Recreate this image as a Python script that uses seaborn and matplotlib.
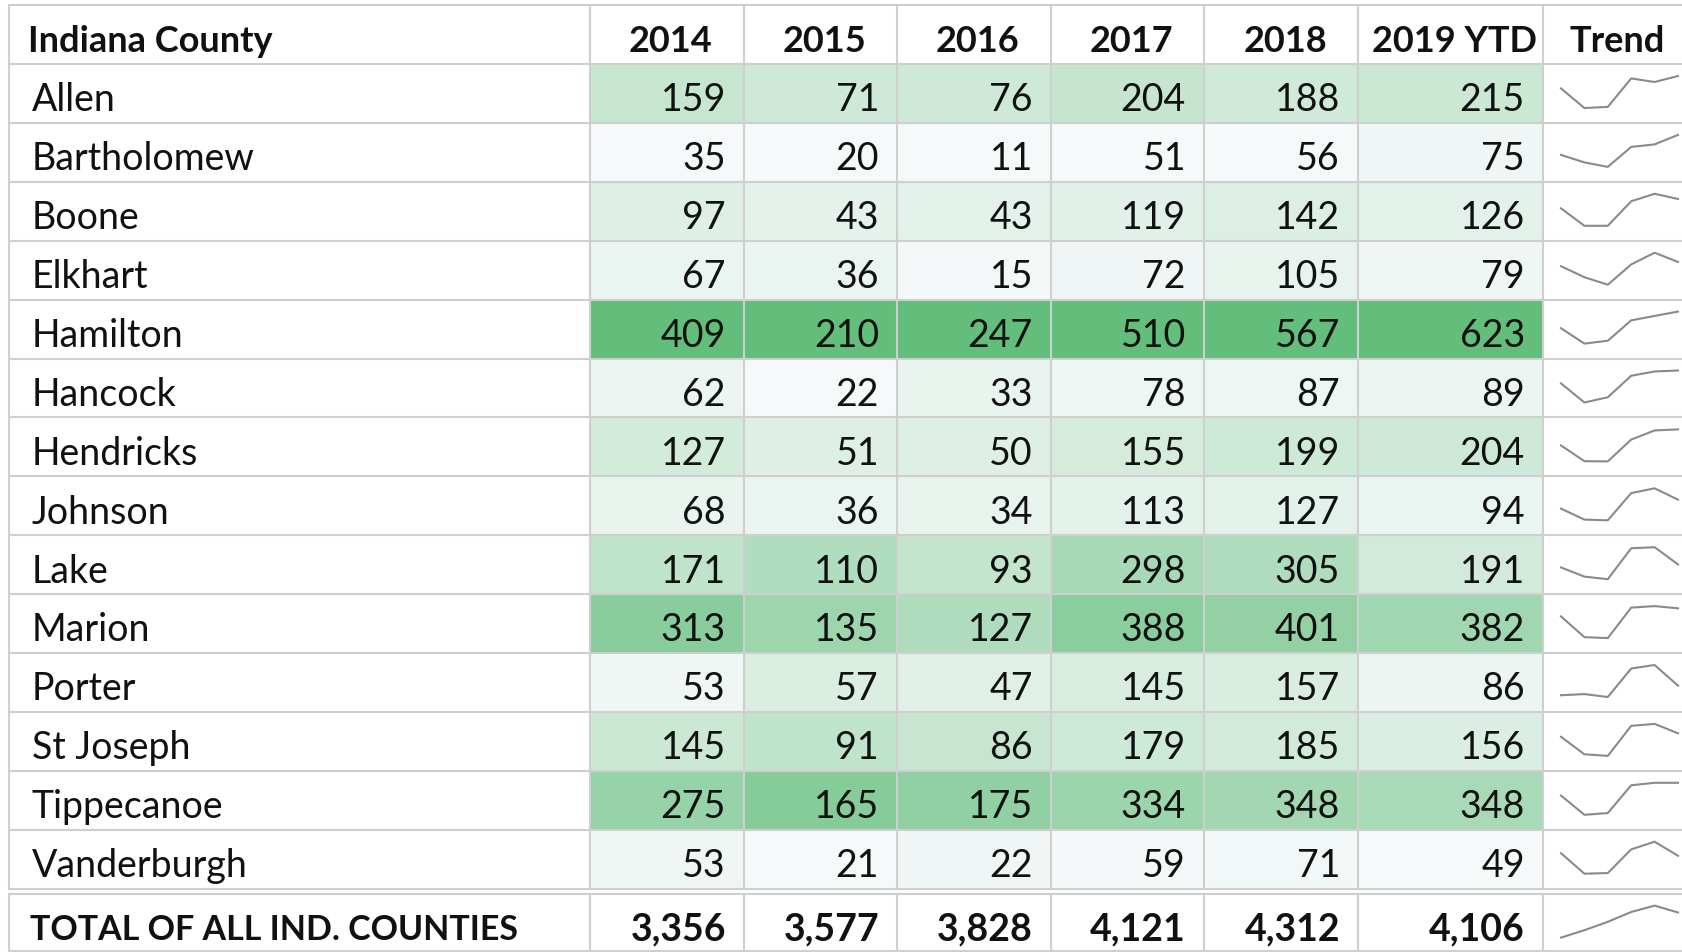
import pandas as pd
import numpy as np
import seaborn as sns
import matplotlib.pyplot as plt
from matplotlib.colors import LinearSegmentedColormap

# ------------------------------
# DATA
# ------------------------------
counties = ["Allen", "Bartholomew", "Boone", "Elkhart", "Hamilton", "Hancock",
            "Hendricks", "Johnson", "Lake", "Marion", "Porter", "St Joseph",
            "Tippecanoe", "Vanderburgh"]
year_labels = ["2014", "2015", "2016", "2017", "2018", "2019 YTD"]

v2014 = [159, 35, 97, 67, 409, 62, 127, 68, 171, 313, 53, 145, 275, 53]
v2015 = [71, 20, 43, 36, 210, 22, 51, 36, 110, 135, 57, 91, 165, 21]
v2016 = [76, 11, 43, 15, 247, 33, 50, 34, 93, 127, 47, 86, 175, 22]
v2017 = [204, 51, 119, 72, 510, 78, 155, 113, 298, 388, 145, 179, 334, 59]
v2018 = [188, 56, 142, 105, 567, 87, 199, 127, 305, 401, 157, 185, 348, 71]
v2019 = [215, 75, 126, 79, 623, 89, 204, 94, 191, 382, 86, 156, 348, 49]
totals = [3356, 3577, 3828, 4121, 4312, 4106]

df = pd.DataFrame({"2014": v2014, "2015": v2015, "2016": v2016,
                   "2017": v2017, "2018": v2018, "2019 YTD": v2019},
                  index=counties)

# ------------------------------
# LAYOUT (pixels)
# ------------------------------
W, H = 1683, 953
col_edges = [9, 590, 744, 897, 1051, 1204, 1358, 1543, 1683]
top_y = 6
head_y = 65
row_h = 58.9
body_y = head_y + row_h * len(counties)
total_top = body_y + 5
total_bot = 952
grid_col = "#CFCFCF"
txt_col = "#111111"
font = ["Lato", "DejaVu Sans"]
fs = 27
fs_head = 26

fig = plt.figure(figsize=(W / 100, H / 100), dpi=100)
fig.patch.set_facecolor("white")


def px_axes(x0, y0, x1, y1, **kw):
    return fig.add_axes([x0 / W, 1 - y1 / H, (x1 - x0) / W, (y1 - y0) / H], **kw)


# ------------------------------
# HEATMAP COLUMNS (each column has its own scale, like Excel)
# ------------------------------
cmap = LinearSegmentedColormap.from_list("excel_green", ["#F6F9FA", "#63BE7B"])
for i, col in enumerate(year_labels):
    ax = px_axes(col_edges[i + 1], head_y, col_edges[i + 2], body_y)
    sns.heatmap(df[[col]], ax=ax, cmap=cmap, cbar=False,
                vmin=df[col].min(), vmax=df[col].max(),
                xticklabels=False, yticklabels=False)
    ax.set_xlabel("")
    ax.set_ylabel("")
    for r, val in enumerate(df[col]):
        ax.annotate(f"{val:,}", xy=(1, r + 1), xycoords=("axes fraction", "data"),
                    xytext=(-18, 12.5), textcoords="offset pixels",
                    ha="right", va="baseline", fontsize=fs, color=txt_col, family=font)

# ------------------------------
# OVERLAY: text + grid
# ------------------------------
ov = fig.add_axes([0, 0, 1, 1], zorder=5)
ov.set_xlim(0, W)
ov.set_ylim(H, 0)
ov.axis("off")
ov.patch.set_alpha(0)

# header
hb = head_y - 13.5
ov.text(28, hb, "Indiana County", ha="left", va="baseline",
        fontsize=fs_head, fontweight="bold", color=txt_col, family=font)
for i, lab in enumerate(year_labels + ["Trend"]):
    cx = (col_edges[i + 1] + col_edges[i + 2]) / 2 + 4
    ov.text(cx, hb, lab, ha="center", va="baseline",
            fontsize=fs_head, fontweight="bold", color=txt_col, family=font)

# county names
for r, name in enumerate(counties):
    by = head_y + row_h * (r + 1) - 12.5
    ov.text(32, by, name, ha="left", va="baseline", fontsize=fs, color=txt_col, family=font)

# total row
tb = total_bot - 12
ov.text(30, tb, "TOTAL OF ALL IND. COUNTIES", ha="left", va="baseline",
        fontsize=24.5, fontweight="bold", color=txt_col, family=font)
for i, val in enumerate(totals):
    ov.text(col_edges[i + 2] - 18, tb, f"{val:,}", ha="right", va="baseline",
            fontsize=fs, fontweight="bold", color=txt_col, family=font)

# grid lines
lw = 1.5
hlines = [top_y, head_y] + [head_y + row_h * k for k in range(1, len(counties) + 1)] + [total_top, total_bot]
for y in hlines:
    ov.plot([col_edges[0], W], [y, y], color=grid_col, lw=lw, solid_capstyle="butt")
for x in col_edges[:-1]:
    ov.plot([x, x], [top_y, body_y], color=grid_col, lw=lw)
    ov.plot([x, x], [total_top, total_bot], color=grid_col, lw=lw)

# ------------------------------
# SPARKLINES
# ------------------------------
spark_x0, spark_x1 = 1561, 1678
xs = list(range(len(year_labels)))
rows = [(head_y + row_h * r, df.loc[c].tolist()) for r, c in enumerate(counties)]
rows.append((total_top, totals))
for y0, vals in rows:
    sax = px_axes(spark_x0, y0 + 12, spark_x1, y0 + 44, zorder=6)
    sns.lineplot(x=xs, y=vals, ax=sax, color="#8A8A8A", linewidth=1.5)
    sax.set_xlim(0, len(xs) - 1)
    sax.set_ylim(min(vals), max(vals))
    sax.axis("off")
    for ln in sax.lines:
        ln.set_clip_on(False)

fig.savefig("out.png", dpi=100)
